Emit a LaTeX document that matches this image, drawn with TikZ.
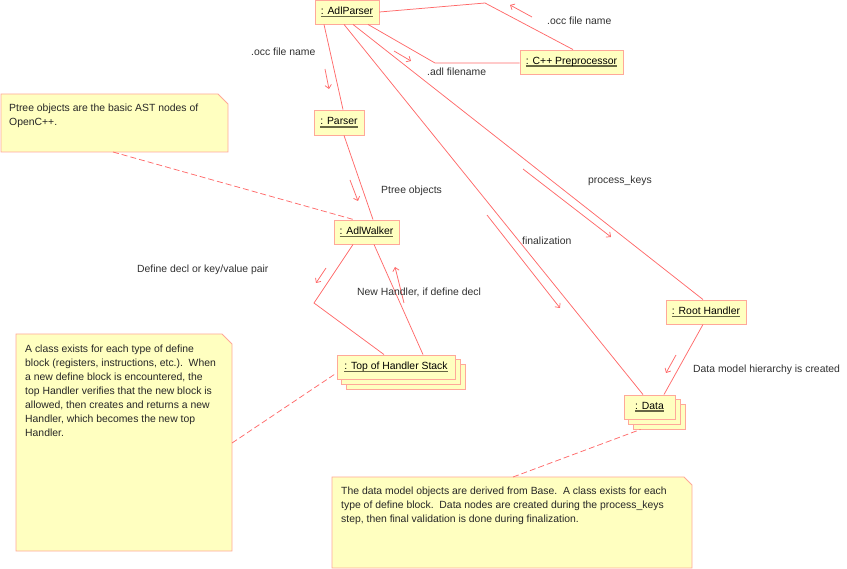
\documentclass[tikz,border=0pt]{standalone}
\usepackage{fontspec}
\setmainfont{Liberation Sans}
\usetikzlibrary{arrows.meta,backgrounds}
\definecolor{boxfill}{HTML}{FFFFC0}
\definecolor{boxline}{HTML}{FFA899}
\definecolor{linkcol}{HTML}{FF6A6A}
\definecolor{ulcol}{HTML}{666644}
\definecolor{txtcol}{HTML}{303030}
\newcommand\objul[1]{\setbox0\hbox{#1}\rlap{\color{ulcol}\rule[-3pt]{\wd0}{1.7pt}}\box0}
\tikzset{
  obj/.style={draw=boxline, fill=boxfill, line width=0.9pt, minimum height=24pt,
    inner xsep=0pt, inner ysep=0pt, font=\fontsize{10.4}{12}\selectfont, text=black},
  shadowbox/.style={draw=boxline, fill=boxfill, line width=0.9pt},
  link/.style={draw=linkcol, line width=0.75pt},
  msg/.style={draw=linkcol, line width=0.75pt, -{Straight Barb[length=3.5pt,width=6.5pt]}},
  lbl/.style={font=\fontsize{10.4}{12}\selectfont, text=txtcol, inner sep=0pt, anchor=base west},
  notebox/.style={draw=boxline, fill=boxfill, line width=0.9pt},
  notetext/.style={font=\fontsize{10.4}{14}\selectfont, text=black!85, inner sep=0pt,
    anchor=north west, align=left},
  anchorline/.style={draw=linkcol, line width=0.75pt, dash pattern=on 6pt off 3pt}
}
\begin{document}
\begin{tikzpicture}[x=1pt,y=-1pt]
\useasboundingbox (0,0) rectangle (847,569);

% ---------- objects ----------
\node[obj, minimum width=64] (adlparser) at (347,12) {\objul{: AdlParser}};
\node[obj, minimum width=103] (cpp) at (571.5,62) {\objul{: C++ Preprocessor}};
\node[obj, minimum width=50, minimum height=25] (parser) at (339,122.5) {\objul{: Parser}};
\node[obj, minimum width=65] (walker) at (366.5,232) {\objul{: AdlWalker}};
\node[obj, minimum width=118] (top) at (396,367) {\objul{: Top of Handler Stack}};
\node[obj, minimum width=80] (root) at (706,312) {\objul{: Root Handler}};
\node[obj, minimum width=51] (data) at (649.5,407) {\objul{: Data}};

\begin{scope}[on background layer]
  \draw[shadowbox] ([xshift=10pt,yshift=-10pt]top.south west) rectangle ([xshift=10pt,yshift=-10pt]top.north east);
  \draw[shadowbox] ([xshift=5pt,yshift=-5pt]top.south west) rectangle ([xshift=5pt,yshift=-5pt]top.north east);
  \draw[shadowbox] ([xshift=10pt,yshift=-10pt]data.south west) rectangle ([xshift=10pt,yshift=-10pt]data.north east);
  \draw[shadowbox] ([xshift=5pt,yshift=-5pt]data.south west) rectangle ([xshift=5pt,yshift=-5pt]data.north east);
\end{scope}

% ---------- notes ----------
\draw[notebox] (1,94) -- (218,94) -- (228,104) -- (228,152) -- (1,152) -- cycle;
\node[notetext] (note1) at (9,103.4) {Ptree objects are the basic AST nodes of\\OpenC++.};
\coordinate (n1a) at (113,152);

\draw[notebox] (16,334) -- (222,334) -- (232,344) -- (232,551) -- (16,551) -- cycle;
\node[notetext] (note2) at (25,344.4) {A class exists for each type of define\\
block (registers, instructions, etc.).\ \ When\\
a new define block is encountered, the\\
top Handler verifies that the new block is\\
allowed, then creates and returns a new\\
Handler, which becomes the new top\\
Handler.};
\coordinate (n2a) at (232,443);

\draw[notebox] (332,477) -- (684,477) -- (692,485) -- (692,568) -- (332,568) -- cycle;
\node[notetext] (note3) at (341,486.4) {The data model objects are derived from Base.\ \ A class exists for each\\
type of define block.\ \ Data nodes are created during the process\_keys\\
step, then final validation is done during finalization.};
\coordinate (n3a) at (513,477);

% ---------- links ----------
\coordinate (bend1) at (485,3);
\coordinate (bend2) at (435,63);
\coordinate (bend3) at (314,303);
\draw[link] (adlparser.east) -- (bend1) -- ([xshift=1.5pt]cpp.north);
\draw[link] ([xshift=21pt]adlparser.south) -- (bend2) -- (cpp.west |- bend2);
\draw[link] ([xshift=-23pt]adlparser.south) -- ([xshift=4pt]parser.north);
\draw[link] ([xshift=5pt]parser.south) -- ([xshift=6.5pt]walker.north);
\draw[link] ([xshift=-3pt]adlparser.south) -- ([xshift=-6.5pt]data.north);
\draw[link] ([xshift=6pt]adlparser.south) -- ([xshift=-3pt]root.north);
\draw[link] ([xshift=-13.5pt]walker.south) -- (bend3) -- ([xshift=-12pt]top.north);
\draw[link] ([xshift=7.5pt]walker.south) -- ([xshift=27pt]top.north);
\draw[link] ([xshift=-3pt]root.south) -- ([xshift=14.5pt]data.north);

% ---------- note anchors ----------
\draw[anchorline] (n1a) -- ([xshift=20pt]walker.north west);
\draw[anchorline] (n2a) -- ([yshift=-6pt]top.west);
\draw[anchorline] (n3a) -- ([xshift=17pt,yshift=-10pt]data.south west);

% ---------- messages ----------
\coordinate (m1a) at (532,17);  \coordinate (m1b) at (510,5);
\coordinate (m2a) at (394,51);  \coordinate (m2b) at (411,61);
\coordinate (m3a) at (325,69);  \coordinate (m3b) at (329,89);
\coordinate (m4a) at (350,180); \coordinate (m4b) at (358,201);
\coordinate (m5a) at (326,268); \coordinate (m5b) at (316,283);
\coordinate (m6a) at (404,303); \coordinate (m6b) at (395,267);
\coordinate (m7a) at (523,169); \coordinate (m7b) at (611,237);
\coordinate (m8a) at (487,215); \coordinate (m8b) at (560,308);
\coordinate (m9a) at (676,355); \coordinate (m9b) at (666,373);
\foreach \m in {1,...,9} {\draw[msg] (m\m a) -- (m\m b);}

% ---------- labels ----------
\node[lbl] (l1) at (547,25) {.occ file name};
\node[lbl] (l2) at (427,76) {.adl filename};
\node[lbl] (l3) at (251,56) {.occ file name};
\node[lbl] (l4) at (381,194) {Ptree objects};
\node[lbl] (l5) at (137,273) {Define decl or key/value pair};
\node[lbl] (l6) at (357,296) {New Handler, if define decl};
\node[lbl] (l7) at (588,184) {process\_keys};
\node[lbl] (l8) at (522,245) {finalization};
\node[lbl] (l9) at (693,373) {Data model hierarchy is created};
\end{tikzpicture}
\end{document}
